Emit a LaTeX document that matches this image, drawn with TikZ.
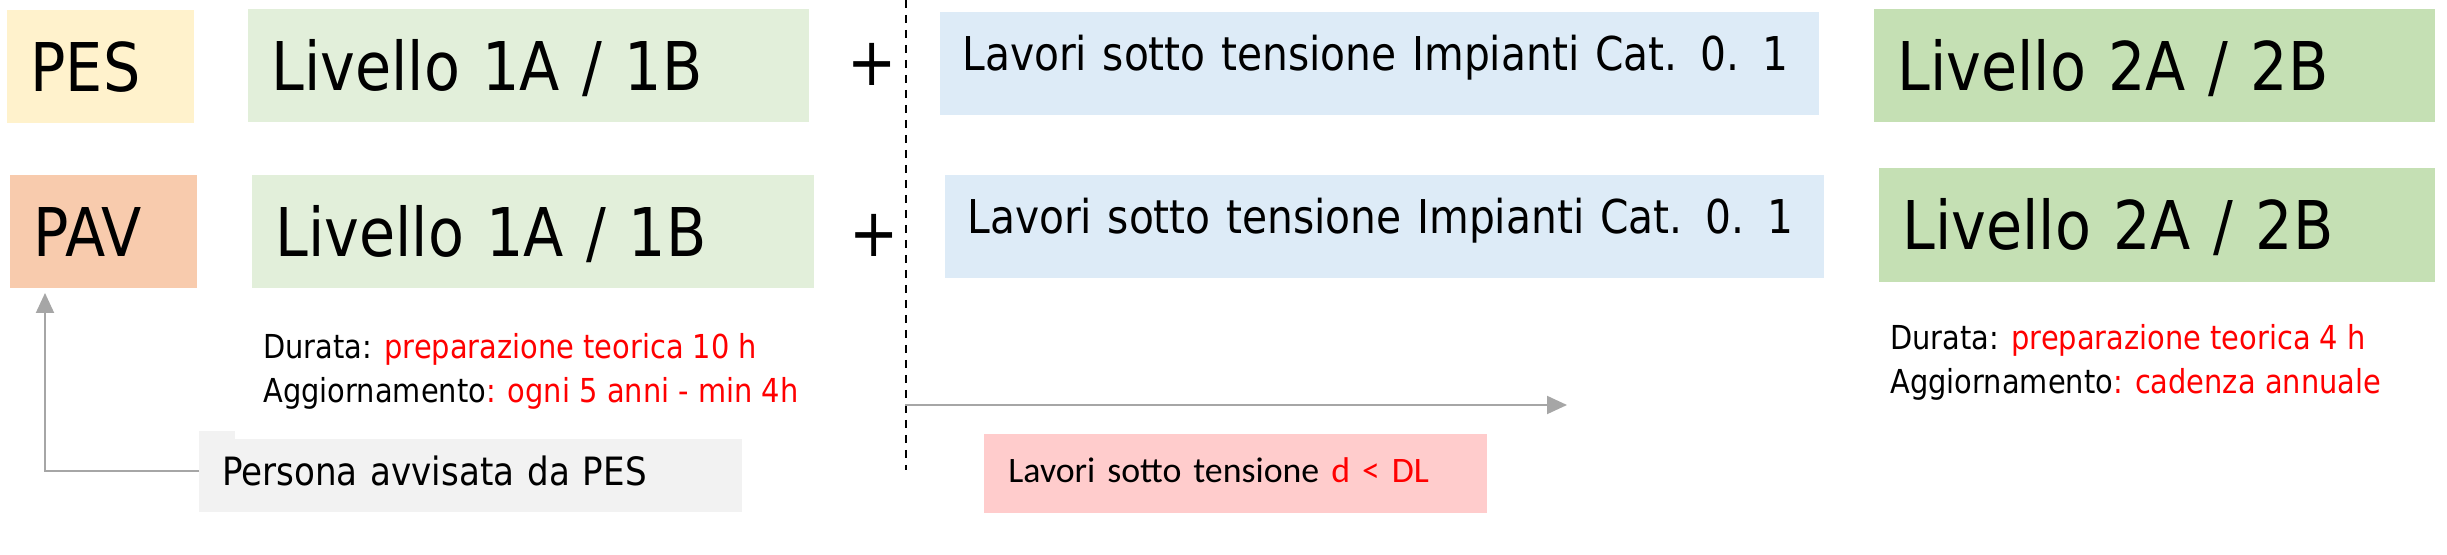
\documentclass[tikz,border=0pt]{standalone}
\usepackage{fontspec}
\setmainfont{DejaVu Sans}[FakeStretch=0.875]
\newfontfamily\calib{Carlito}
\usetikzlibrary{arrows.meta}

\definecolor{pesfill}{HTML}{FFF2CC}
\definecolor{pavfill}{HTML}{F8CBAD}
\definecolor{lvlonefill}{HTML}{E2EFDA}
\definecolor{lvltwofill}{HTML}{C5E0B4}
\definecolor{lstfill}{HTML}{DDEBF7}
\definecolor{notefill}{HTML}{F2F2F2}
\definecolor{dlfill}{HTML}{FFCCCC}
\definecolor{arrowgray}{HTML}{A6A6A6}
\definecolor{warnred}{HTML}{FF0000}

\begin{document}
\begin{tikzpicture}[x=0.5pt,y=-0.5pt,
    cell/.style={anchor=north west,inner ysep=0pt,align=left},
    bigcell/.style={cell,font=\fontsize{33.6}{40}\selectfont,text height=24.5pt,text depth=0pt,inner xsep=11.5pt,minimum height=56.5pt},
    lstcell/.style={cell,fill=lstfill,font=\fontsize{23.3}{28}\selectfont,text height=17pt,text depth=10pt,inner xsep=11pt,minimum height=51.5pt,text width=417.5pt},
    plus/.style={inner sep=0pt,font=\fontsize{33.6}{40}\selectfont},
    info/.style={anchor=north west,inner sep=0pt,align=left,font=\fontsize{16.5}{22}\selectfont},
    link/.style={draw=arrowgray,line width=1pt,-{Triangle[length=10pt,width=9pt]}}]
  \useasboundingbox (0,0) rectangle (2447,555);

  % PES row
  \node[bigcell,fill=pesfill,text width=70.5pt] (pes) at (7,10) {PES};
  \node[bigcell,fill=lvlonefill,text width=257.5pt] (lvlonea) at (248,9) {Livello 1A / 1B};
  \node[plus] (plusa) at (872,64) {+};
  \node[lstcell] (lsta) at (940,12) {Lavori sotto tensione Impianti Cat. 0. 1};
  \node[bigcell,fill=lvltwofill,text width=257.5pt] (lvltwoa) at (1874,9) {Livello 2A / 2B};

  % PAV row
  \node[bigcell,fill=pavfill,text width=70.5pt] (pav) at (10,175) {PAV};
  \node[bigcell,fill=lvlonefill,text width=258pt] (lvloneb) at (252,175) {Livello 1A / 1B};
  \node[plus] (plusb) at (874,235.5) {+};
  \node[lstcell] (lstb) at (945,175) {Lavori sotto tensione Impianti Cat. 0. 1};
  \node[bigcell,fill=lvltwofill,text width=255pt,minimum height=57pt] (lvltwob) at (1879,168) {Livello 2A / 2B};

  % durata / aggiornamento
  \node[info] (infoone) at (263,333) {Durata: \textcolor{warnred}{preparazione teorica 10 h}\\Aggiornamento\textcolor{warnred}{: ogni 5 anni - min 4h}};
  \node[info] (infotwo) at (1890,324) {Durata: \textcolor{warnred}{preparazione teorica 4 h}\\Aggiornamento\textcolor{warnred}{: cadenza annuale}};

  % notes
  \fill[notefill] (199,431) rectangle (235,439);
  \node[cell,fill=notefill,font=\fontsize{19.5}{24}\selectfont,text height=14.2pt,text depth=5pt,inner xsep=11.3pt,minimum height=36.5pt,text width=248.9pt] (persona) at (199,439) {Persona avvisata da PES};
  \node[cell,fill=dlfill,font=\calib\fontsize{17.9}{22}\selectfont,text height=11.5pt,text depth=3pt,inner xsep=12pt,minimum height=39.5pt,text width=227.5pt] (dl) at (984,434) {Lavori sotto tensione \textcolor{warnred}{d < DL}};

  % divider and arrows
  \coordinate (divtop) at (906,0);
  \coordinate (divbot) at (906,470);
  \draw[line width=0.9pt,dash pattern=on 4pt off 3.5pt] (divtop) -- (divbot);
  \coordinate (pavtip) at (45,293);
  \draw[link] ([yshift=2.25pt]persona.west) -| (pavtip);
  \coordinate (dlstart) at (905,405);
  \coordinate (dlend) at (1567,405);
  \draw[link] (dlstart) -- (dlend);
\end{tikzpicture}
\end{document}
